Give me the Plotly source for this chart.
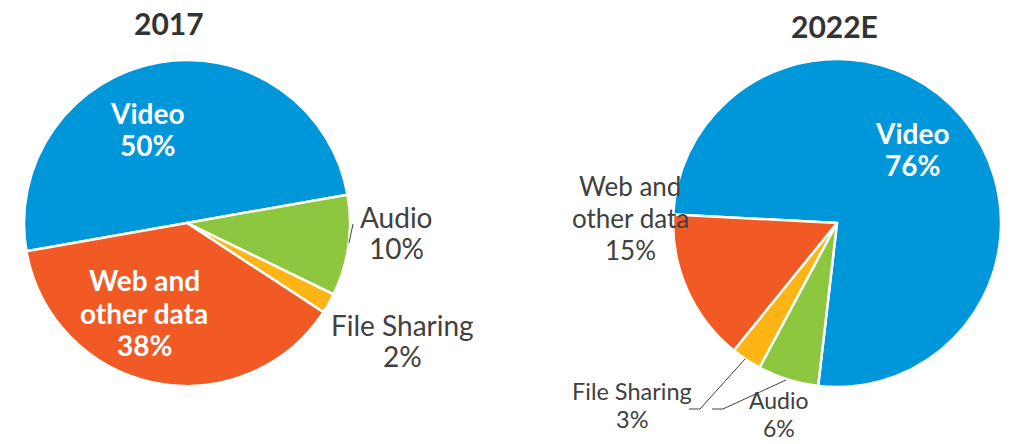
import plotly.graph_objects as go

# ---- data ----
categories = ["Video", "Audio", "File Sharing", "Web and other data"]
label_lines = [["Video"], ["Audio"], ["File Sharing"], ["Web and", "other data"]]
values_2017 = [50, 10, 2, 38]
values_2022 = [76, 6, 3, 15]
titles = ["2017", "2022E"]
colors = ["#0097DA", "#8DC63F", "#FDB515", "#F15A24"]

W, H = 1013, 444
FONT = "Lato"
GRAY = "#404040"


def px(x, y):
    return x / W, (H - y) / H


fig = go.Figure()

# pie geometry (pixels): center x, center y, radius, rotation
pies = [
    (values_2017, 187, 223, 163, 260),
    (values_2022, 837, 223, 164, 273),
]
for vals, cx, cy, r, rot in pies:
    fig.add_trace(go.Pie(
        labels=categories, values=vals, sort=False, direction="clockwise",
        rotation=rot, textinfo="none", hoverinfo="label+percent",
        marker=dict(colors=colors, line=dict(color="white", width=2.5)),
        domain=dict(x=[(cx - r) / W, (cx + r) / W],
                    y=[(H - cy - r) / H, (H - cy + r) / H]),
        showlegend=False,
    ))

annotations = []


def add_text(text, x, baseline, size, bold, color):
    # approximate vertical centre of text relative to baseline
    xc, yc = px(x, baseline - 0.38 * size)
    annotations.append(dict(
        text=f"<b>{text}</b>" if bold else text, x=xc, y=yc,
        xref="paper", yref="paper", xanchor="center", yanchor="middle",
        showarrow=False, font=dict(family=FONT, size=size, color=color)))


# titles
add_text(titles[0], 169, 34, 30, True, "#333333")
add_text(titles[1], 834, 37, 30, True, "#333333")

# label placement per pie: (x, first baseline, line gap, size, bold, color)
place = [
    [(147, 124, 32, 28, True, "white"),
     (396, 228, 31, 28, False, GRAY),
     (402, 336, 31, 28, False, GRAY),
     (144, 291, 32.5, 28, True, "white")],
    [(912, 144, 32, 28, True, "white"),
     (779, 409, 28, 23, False, GRAY),
     (632, 400, 28, 23.5, False, GRAY),
     (630, 196, 32, 26, False, GRAY)],
]
for vals, pl in zip([values_2017, values_2022], place):
    for i, cat in enumerate(categories):
        x, b, gap, size, bold, color = pl[i]
        lines = label_lines[i] + [f"{vals[i]}%"]
        for k, ln in enumerate(lines):
            add_text(ln, x, b + k * gap, size, bold, color)

# leader lines (pixels)
leaders = [
    [(349, 243), (353, 224)],
    [(745, 359), (700, 409), (689, 409)],
    [(786, 380), (723, 409), (712, 409)],
]
shapes = []
for pts in leaders:
    for (x0, y0), (x1, y1) in zip(pts[:-1], pts[1:]):
        a0, b0 = px(x0, y0)
        a1, b1 = px(x1, y1)
        shapes.append(dict(type="line", xref="paper", yref="paper",
                           x0=a0, y0=b0, x1=a1, y1=b1,
                           line=dict(color=GRAY, width=1)))

fig.update_layout(
    width=W, height=H, margin=dict(l=0, r=0, t=0, b=0),
    paper_bgcolor="white", plot_bgcolor="white",
    annotations=annotations, shapes=shapes,
    font=dict(family=FONT),
)

fig.write_html("out.html", config={"displayModeBar": False},
               post_script="document.body.style.margin='0';"
                           "document.body.style.overflow='hidden';")
